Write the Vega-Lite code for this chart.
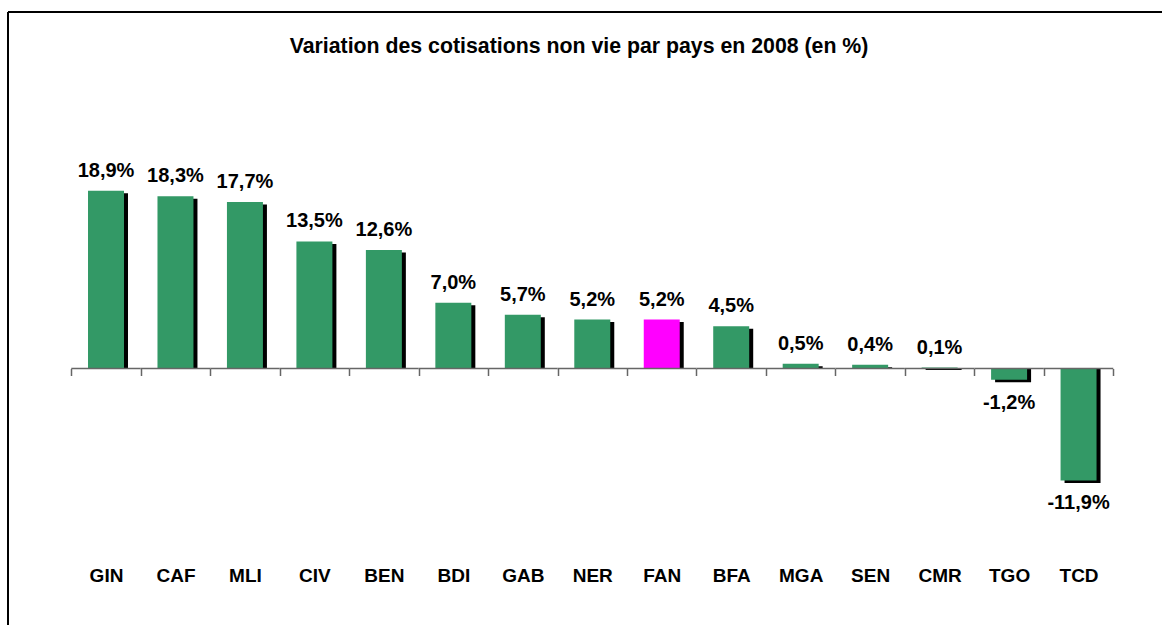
{
  "$schema": "https://vega.github.io/schema/vega-lite/v6.json",
  "width": 1154,
  "height": 613,
  "autosize": {"type": "none"},
  "padding": {"left": 8, "top": 12, "right": 0, "bottom": 0},
  "background": "white",
  "title": {
    "text": "Variation des cotisations non vie par pays en 2008 (en %)",
    "font": "Liberation Sans",
    "fontSize": 21.3,
    "fontWeight": "bold",
    "color": "black",
    "anchor": "middle",
    "frame": "group",
    "baseline": "alphabetic",
    "offset": -62,
    "dx": -6
  },
  "config": {
    "locale": {
      "number": {
        "decimal": ",",
        "thousands": " ",
        "grouping": [3],
        "currency": ["", ""],
        "minus": "-",
        "percent": "%"
      }
    },
    "view": {"stroke": "black", "strokeWidth": 2, "strokeDash": [1154, 1767, 613, 0]},
    "font": "Liberation Sans"
  },
  "data": {
    "values": [
      {"country": "GIN", "value": 0.189},
      {"country": "CAF", "value": 0.183},
      {"country": "MLI", "value": 0.177},
      {"country": "CIV", "value": 0.135},
      {"country": "BEN", "value": 0.126},
      {"country": "BDI", "value": 0.070},
      {"country": "GAB", "value": 0.057},
      {"country": "NER", "value": 0.052},
      {"country": "FAN", "value": 0.052},
      {"country": "BFA", "value": 0.045},
      {"country": "MGA", "value": 0.005},
      {"country": "SEN", "value": 0.004},
      {"country": "CMR", "value": 0.001},
      {"country": "TGO", "value": -0.012},
      {"country": "TCD", "value": -0.119}
    ]
  },
  "encoding": {
    "x": {
      "field": "country",
      "type": "nominal",
      "sort": null,
      "scale": {"paddingInner": 0, "paddingOuter": 0.806, "align": 0.565},
      "axis": {
        "title": null,
        "orient": "bottom",
        "offset": -256.5,
        "domain": false,
        "ticks": true,
        "tickSize": 7,
        "tickColor": "#666666",
        "tickWidth": 1.5,
        "tickBand": "extent",
        "labelPadding": 205.5,
        "labelBaseline": "alphabetic",
        "labelFont": "Liberation Sans",
        "labelFontSize": 19,
        "labelFontWeight": "bold",
        "labelColor": "black",
        "labelAngle": 0
      }
    },
    "y": {
      "field": "value",
      "type": "quantitative",
      "scale": {"domain": [-0.27258, 0.37885], "nice": false, "zero": false},
      "axis": null
    }
  },
  "layer": [
    {
      "mark": {"type": "bar", "color": "black", "width": {"band": 0.518}, "xOffset": 4, "yOffset": 2.5},
      "encoding": {"y2": {"datum": 0}}
    },
    {
      "mark": {"type": "bar", "width": {"band": 0.518}},
      "encoding": {
        "y2": {"datum": 0},
        "color": {"condition": {"test": "datum.country === 'FAN'", "value": "#FF00FF"}, "value": "#339966"}
      }
    },
    {
      "mark": {"type": "bar", "width": {"band": 1}, "fill": "transparent", "stroke": "#666666", "strokeWidth": 1.5},
      "encoding": {"y": {"datum": 0}, "y2": {"datum": 0}}
    },
    {
      "transform": [{"filter": "datum.value >= 0"}],
      "mark": {"type": "text", "baseline": "alphabetic", "dy": -14, "font": "Liberation Sans", "fontSize": 20, "fontWeight": "bold", "color": "black"},
      "encoding": {"text": {"field": "value", "type": "quantitative", "format": ".1%"}}
    },
    {
      "transform": [{"filter": "datum.value < 0"}],
      "mark": {"type": "text", "baseline": "alphabetic", "dy": 29, "font": "Liberation Sans", "fontSize": 20, "fontWeight": "bold", "color": "black"},
      "encoding": {"text": {"field": "value", "type": "quantitative", "format": ".1%"}}
    }
  ]
}
